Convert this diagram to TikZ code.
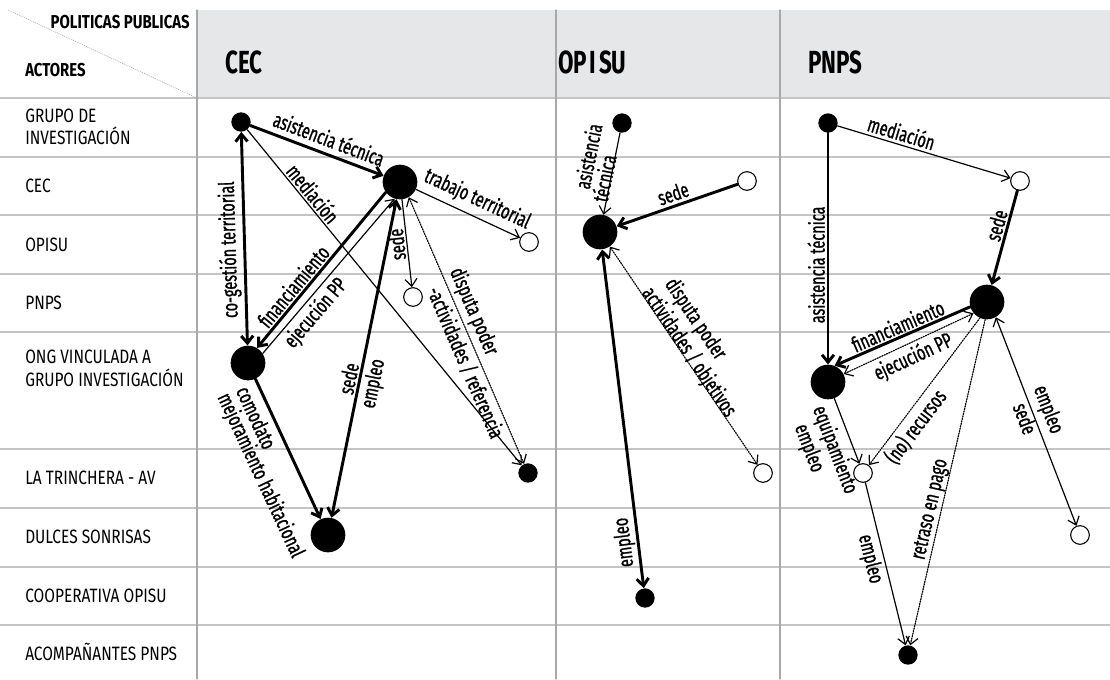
\documentclass[tikz,border=0pt]{standalone}
\usepackage{fontspec}
\setmainfont{Fira Sans}
\newfontfamily\labfont{Fira Sans}[FakeStretch=0.68,FakeBold=1]
\newfontfamily\rowfont{Fira Sans}[FakeStretch=0.8]
\newfontfamily\headfont{Fira Sans}[FakeStretch=0.7]
\usetikzlibrary{arrows.meta,positioning}
\definecolor{cabecera}{HTML}{E6E7E8}
\definecolor{rejilla}{HTML}{C4C4C4}
\definecolor{columna}{HTML}{A8A8A8}
\begin{document}
\begin{tikzpicture}[x=0.75pt,y=-0.75pt,line join=round,line cap=round,
  >={Straight Barb[length=5.5pt,width=9pt]},
  bigdot/.style={circle,fill=black,inner sep=0pt,minimum size=26pt},
  smalldot/.style={circle,fill=black,inner sep=0pt,minimum size=14.5pt},
  opendot/.style={circle,draw=black,fill=white,line width=0.8pt,inner sep=0pt,minimum size=14pt},
  gruesa/.style={line width=2.2pt},
  fina/.style={line width=0.9pt},
  punteada/.style={line width=0.9pt,densely dotted},
  lab/.style={font={\labfont\fontsize{16}{17}\selectfont},inner sep=1.2pt},
  rowlab/.style={anchor=west,align=left,inner sep=0pt,font={\rowfont\fontsize{14.5}{17}\selectfont}},
  headlab/.style={inner sep=0pt,font={\rowfont\bfseries\fontsize{14}{16}\selectfont}},
  colhead/.style={anchor=west,inner sep=0pt,font={\headfont\bfseries\fontsize{24}{26}\selectfont}}]
\useasboundingbox (0,0) rectangle (1110,679);
% tabla
\fill[cabecera] (197,10) rectangle (1110,98);
\foreach \yy in {98,157,215,274,332,449,508,567,625}
  \draw[rejilla,line width=0.9pt] (0,\yy) -- (1110,\yy);
\foreach \xx in {197,556,780}
  \draw[columna,line width=0.8pt] (\xx,10) -- (\xx,679);
\draw[columna,line width=0.5pt,densely dotted] (8,10) -- (197,98);
\node[headlab,anchor=east] (polit) at (190,22) {POLITICAS PUBLICAS};
\node[headlab,anchor=west] (actores) at (25,70) {ACTORES};
\node[colhead] (hcec) at (225,62) {CEC};
\node[colhead] (hopisu) at (558,62) {OP\hspace{2pt}I\hspace{2pt}SU};
\node[colhead] (hpnps) at (808,62) {PNPS};
\foreach \texto/\yy [count=\i] in {{GRUPO DE\\INVESTIGACIÓN}/127,CEC/186,OPISU/245,PNPS/303,
  {ONG VINCULADA A\\GRUPO INVESTIGACIÓN}/368,LA TRINCHERA - AV/478,DULCES SONRISAS/537,
  COOPERATIVA OPISU/596,ACOMPAÑANTES PNPS/652}
  \node[rowlab] (fila\i) at (25,\yy) {\texto};
% actores CEC
\node[smalldot] (g1) at (241,122) {};
\node[bigdot] (c1) at (400,182) {};
\node[opendot] (o1) at (529,242) {};
\node[opendot] (p1) at (413,297) {};
\node[bigdot] (n1) at (248,363) {};
\node[smalldot] (t1) at (528,473) {};
\node[bigdot] (d1) at (328,535) {};
% actores OPISU
\node[smalldot] (g2) at (622,123) {};
\node[opendot] (c2) at (747,181) {};
\node[bigdot] (o2) at (600,232) {};
\node[opendot] (t2) at (763,473) {};
\node[smalldot] (k2) at (645,598) {};
% actores PNPS
\node[smalldot] (g3) at (828,123) {};
\node[opendot] (c3) at (1020,181) {};
\node[bigdot] (p3) at (987,302) {};
\node[bigdot] (n3) at (828,382) {};
\node[opendot] (t3) at (863,473) {};
\node[opendot] (d3) at (1080,535) {};
\node[smalldot] (a3) at (908,655) {};
% relaciones CEC
\draw[gruesa,->] (g1) -- (c1) node[lab,pos=0.55,sloped,above=3pt]{asistencia técnica};
\draw[gruesa,<->] (n1) -- (g1) node[lab,pos=0.45,sloped,allow upside down,above=1pt]{co-gestión territorial};
\draw[fina,->] (g1) -- (t1) node[lab,pos=0.21,sloped,above=0pt]{mediación};
\draw[fina,->] (c1) -- (o1) node[lab,pos=0.52,sloped,above=3pt]{trabajo territorial};
\draw[gruesa,->] (c1.-144) -- (n1.59) node[lab,pos=0.65,sloped,above=0pt]{financiamiento};
\draw[fina,->] (n1.33) -- (c1.-108) node[lab,pos=0.32,sloped,below=1pt]{ejecución PP};
\draw[fina,<-] (p1) -- (c1) node[lab,midway,sloped,allow upside down,above=0pt]{sede};
\draw[gruesa,<->] (c1) -- (d1) node[lab,pos=0.57,sloped,above=0pt]{sede}
  node[lab,pos=0.57,sloped,below=1pt]{empleo};
\draw[punteada,<->] (c1.-60) -- (t1) node[lab,pos=0.45,sloped,above=1pt]{disputa poder}
  node[lab,pos=0.6,sloped,below=1pt]{-actividades / referencia};
\draw[gruesa,->] (n1) -- (d1) node[lab,pos=0.23,sloped,below=3pt]{comodato}
  node[lab,pos=0.58,sloped,below=17pt]{mejoramiento habitacional};
% relaciones OPISU
\draw[fina,->] (g2) -- (o2) node[lab,pos=0.57,sloped,above=-3pt]{técnica}
  node[lab,pos=0.35,sloped,above=12pt]{asistencia};
\draw[gruesa,->] (c2) -- (o2) node[lab,midway,sloped,above=1pt]{sede};
\draw[gruesa,<->] (k2) -- (o2) node[lab,pos=0.14,sloped,allow upside down,above=0pt]{empleo};
\draw[punteada,<->] (o2) -- (t2) node[lab,pos=0.5,sloped,above=-5pt]{actividades / objetivos}
  node[lab,pos=0.41,sloped,above=13pt]{disputa poder};
% relaciones PNPS
\draw[gruesa,<-] (n3) -- (g3) node[lab,pos=0.43,sloped,allow upside down,above=0pt]{asistencia técnica};
\draw[fina,->] (g3) -- (c3) node[lab,pos=0.35,sloped,above=1pt]{mediación};
\draw[gruesa,->] (c3) -- (p3) node[lab,pos=0.4,sloped,above=0pt]{sede};
\draw[gruesa,->] (p3.196) -- (n3.68) node[lab,midway,sloped,above=0pt]{financiamiento};
\draw[punteada,<->] (n3.27) -- (p3.220) node[lab,pos=0.49,sloped,below=1pt]{ejecución PP};
\draw[punteada,->] (p3.246) -- (t3) node[lab,pos=0.68,sloped,below=1pt]{(no) recursos};
\draw[punteada,->] (p3.264) -- (a3) node[lab,pos=0.59,sloped,above=-1pt]{retraso en pago};
\draw[fina,->] (n3) -- (t3) node[lab,pos=0,sloped,below=4pt,anchor=north west]{equipamiento}
  node[lab,pos=0.15,sloped,below=22pt,anchor=north west]{empleo};
\draw[fina,->] (t3) -- (a3) node[lab,pos=0.45,sloped,below=1pt]{empleo};
\draw[fina,<->] (p3.300) -- (d3) node[lab,pos=0.47,sloped,above=2pt]{empleo}
  node[lab,pos=0.47,sloped,below=-1pt]{sede};
\end{tikzpicture}
\end{document}
